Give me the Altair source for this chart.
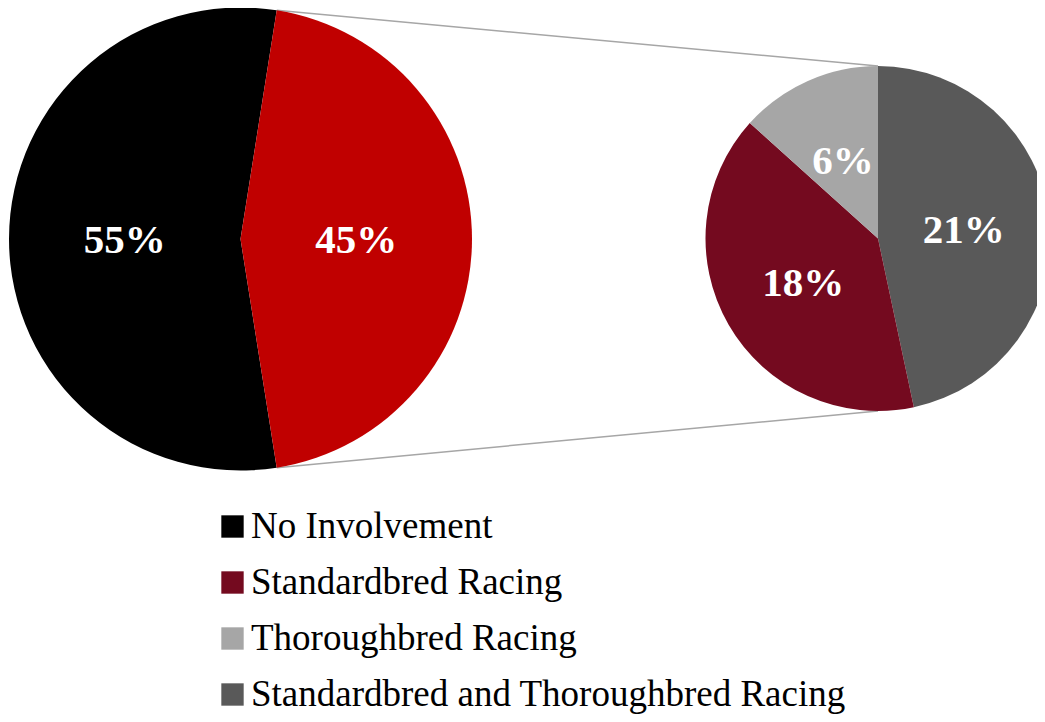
import math
import altair as alt
import pandas as pd

# ---- data ----
outer_categories = ["No Involvement", "Racing Involvement"]
outer_values = [55, 45]
outer_labels = ["55%", "45%"]
outer_order = [1, 0]

inner_categories = ["Standardbred and Thoroughbred Racing", "Standardbred Racing", "Thoroughbred Racing"]
inner_values = [21, 18, 6]
inner_labels = ["21%", "18%", "6%"]
inner_order = [0, 1, 2]

legend_order = ["No Involvement", "Standardbred Racing", "Thoroughbred Racing",
                "Standardbred and Thoroughbred Racing"]
color_domain = ["No Involvement", "Racing Involvement", "Standardbred Racing",
                "Thoroughbred Racing", "Standardbred and Thoroughbred Racing"]
color_range = ["#000000", "#C00000", "#740A1F", "#A6A6A6", "#595959"]

# ---- layout (pixels) ----
cx1, cy1, r1 = 232.5, 231.0, 231.5
cx2, cy2, r2 = 870.0, 230.5, 172.5
W, H = 1029, 706

total_outer = sum(outer_values)
share = outer_values[1] / total_outer
start1 = math.pi / 2 - share * math.pi
end1 = start1 + share * 2 * math.pi
total_inner = sum(inner_values)

df_outer = pd.DataFrame({"category": outer_categories, "value": outer_values,
                         "label": outer_labels, "order": outer_order})
df_inner = pd.DataFrame({"category": inner_categories, "value": inner_values,
                         "label": inner_labels, "order": inner_order})

# connector lines from the aggregated slice edges to the top/bottom of the second pie
conn = pd.DataFrame({
    "x": [cx1 + r1 * math.sin(start1), cx1 + r1 * math.sin(end1)],
    "y": [cy1 - r1 * math.cos(start1), cy1 - r1 * math.cos(end1)],
    "x2": [cx2, cx2],
    "y2": [cy2 - r2, cy2 + r2],
})

color_scale = alt.Scale(domain=color_domain, range=color_range)
serif = "Liberation Serif"

theta1 = alt.Theta("value:Q", stack=True,
                   scale=alt.Scale(domain=[0, total_outer], range=[start1, start1 + 2 * math.pi]))
theta2 = alt.Theta("value:Q", stack=True,
                   scale=alt.Scale(domain=[0, total_inner], range=[0, 2 * math.pi]))

rules = alt.Chart(conn).mark_rule(color="#A6A6A6", strokeWidth=1.5).encode(
    x=alt.X("x:Q", scale=None, axis=None),
    y=alt.Y("y:Q", scale=None, axis=None),
    x2="x2:Q",
    y2="y2:Q",
)

arc1 = alt.Chart(df_outer).mark_arc(radius=r1).encode(
    theta=theta1,
    order=alt.Order("order:Q"),
    color=alt.Color("category:N", scale=color_scale,
                    legend=alt.Legend(orient="none", legendX=206, legendY=500,
                                      values=legend_order, title=None,
                                      symbolType="square", symbolSize=500,
                                      symbolStrokeWidth=0, symbolOpacity=1,
                                      labelFontSize=37, labelFont=serif,
                                      labelColor="#000000", labelLimit=2000,
                                      labelOffset=0, rowPadding=18)),
    x=alt.value(cx1), y=alt.value(cy1),
)
text1 = alt.Chart(df_outer).mark_text(radius=r1 * 0.5, font=serif, fontSize=41,
                                      fontWeight="bold", color="white", dy=2).encode(
    theta=theta1, order=alt.Order("order:Q"), text="label:N",
    x=alt.value(cx1), y=alt.value(cy1),
)

arc2 = alt.Chart(df_inner).mark_arc(radius=r2).encode(
    theta=theta2,
    order=alt.Order("order:Q"),
    color=alt.Color("category:N", scale=color_scale, legend=None),
    x=alt.value(cx2), y=alt.value(cy2),
)
text2 = alt.Chart(df_inner).mark_text(radius=r2 * 0.5, font=serif, fontSize=41,
                                      fontWeight="bold", color="white", dy=2).encode(
    theta=theta2, order=alt.Order("order:Q"), text="label:N",
    x=alt.value(cx2), y=alt.value(cy2),
)

chart = alt.layer(rules, arc1, text1, arc2, text2).resolve_scale(
    theta="independent"
).properties(
    width=W, height=H, padding=0,
    autosize=alt.AutoSizeParams(type="none"),
).configure_view(stroke=None)

chart.save("out.html", embed_options={"renderer": "svg", "actions": False})
